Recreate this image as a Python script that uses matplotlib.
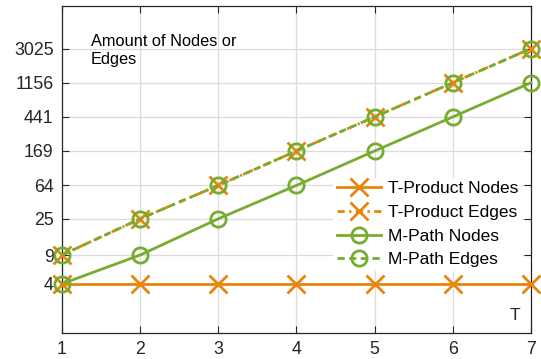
import matplotlib
matplotlib.use("Agg")
import matplotlib.pyplot as plt
from matplotlib.ticker import FixedLocator, NullLocator

plt.rcParams['font.family'] = ['Liberation Sans', 'DejaVu Sans']

T = [1, 2, 3, 4, 5, 6, 7]
tproduct_nodes = [4, 4, 4, 4, 4, 4, 4]
tproduct_edges = [9, 25, 64, 169, 441, 1156, 3025]
mpath_nodes = [4, 9, 25, 64, 169, 441, 1156]
mpath_edges = [9, 25, 64, 169, 441, 1156, 3025]
ytick_vals = [4, 9, 25, 64, 169, 441, 1156, 3025]

orange = '#E8850C'
green = '#77AC30'

fig = plt.figure(figsize=(5.41, 3.59), dpi=100)
ax = fig.add_axes([0.1146, 0.0724, 0.8669, 0.9106])

common = dict(lw=2, mew=2, clip_on=False, zorder=3)
ax.plot(T, tproduct_nodes, '-', color=orange, marker='x', ms=13,
        label='T-Product Nodes', **common)
ax.plot(T, tproduct_edges, color=orange, marker='x', ms=13,
        dashes=(2.6, 1.6, 0.8, 1.6), label='T-Product Edges', **common)
ax.plot(T, mpath_nodes, '-', color=green, marker='o', ms=11, mfc='none',
        label='M-Path Nodes', **common)
ax.plot(T, mpath_edges, color=green, marker='o', ms=11, mfc='none',
        dashes=(2.6, 1.6), label='M-Path Edges', **common)

ax.set_yscale('log')
ax.set_ylim(1, 1e4)
ax.set_xlim(1, 7)
ax.yaxis.set_major_locator(FixedLocator(ytick_vals))
ax.yaxis.set_minor_locator(NullLocator())
ax.set_yticklabels([str(v) for v in ytick_vals])
ax.set_xticks(T)

ax.grid(True, color='#dcdcdc', lw=0.9)
ax.set_axisbelow(True)
ax.tick_params(direction='in', length=5, width=0.8, top=True, right=True,
               labelsize=12.8, colors='#262626', pad=6)
for s in ax.spines.values():
    s.set_color('#262626')
    s.set_linewidth(0.9)

ax.text(0.062, 0.915, 'Amount of Nodes or\nEdges', transform=ax.transAxes,
        fontsize=11.8, color='#000000', va='top', ha='left', linespacing=1.3)
ax.text(0.965, 0.03, 'T', transform=ax.transAxes, fontsize=12.5,
        color='#262626', ha='center', va='bottom')

leg = ax.legend(loc='lower right', bbox_to_anchor=(0.98, 0.19), fontsize=12.5,
                frameon=True, fancybox=False, edgecolor='none',
                facecolor='white', framealpha=1, handlelength=2.55,
                handletextpad=0.4, labelspacing=0.49, borderpad=0.2,
                borderaxespad=0, numpoints=1)
leg.set_zorder(5)

fig.savefig('out.png', dpi=100)
